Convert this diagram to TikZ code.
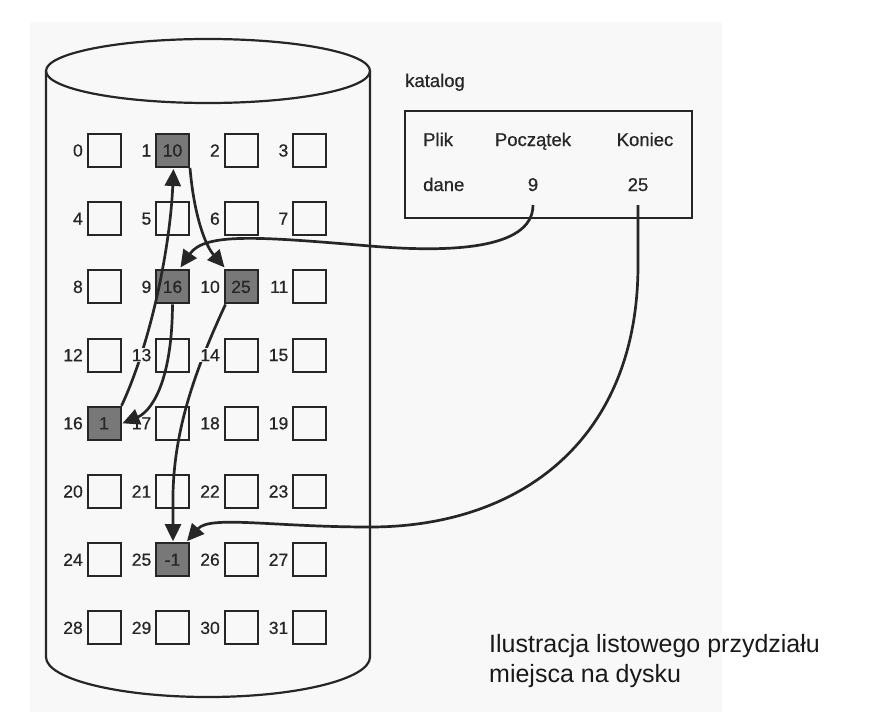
\documentclass[tikz,border=0pt]{standalone}
\usepackage{fontspec}
\setmainfont{Liberation Sans}
\newfontfamily\scanfont[FakeBold=0.6]{Liberation Sans}
\usetikzlibrary{arrows.meta,calc}
\definecolor{ink}{HTML}{262626}
\definecolor{bg}{HTML}{F8F8F8}
\definecolor{cell}{HTML}{787878}
\newcommand\cellxy[1]{%
  \pgfmathtruncatemacro\cc{mod(#1,4)}%
  \pgfmathtruncatemacro\rr{#1/4}%
  \pgfmathsetmacro\X{104+68.5*\cc}%
  \pgfmathsetmacro\Y{150.5+68.2*\rr}}
\begin{document}
\begin{tikzpicture}[x=1pt,y=-1pt,
  cellbox/.style={draw=ink,line width=2pt,minimum size=33pt,inner sep=0pt,fill=bg},
  usedbox/.style={cellbox,fill=cell,text=ink,font=\scanfont\fontsize{17.5}{17.5}\selectfont},
  numlabel/.style={anchor=east,inner sep=1pt,text=ink,font=\scanfont\fontsize{17.5}{17.5}\selectfont},
  lab13/.style={fill=bg},
  lab14/.style={fill=bg},
  cattext/.style={anchor=base,inner sep=0pt,text=ink,font=\scanfont\fontsize{18.5}{18.5}\selectfont},
  link/.style={draw=ink,line width=2.7pt,-{Triangle[length=17pt,width=16pt]}},
  caption/.style={anchor=base west,inner sep=0pt,text=black!90,font=\fontsize{25}{30}\selectfont}
]
\useasboundingbox (0,0) rectangle (873,725);
\fill[bg] (30,22) rectangle (722,712);

% cylinder
\draw[ink,line width=2.2pt] (208,71) ellipse [x radius=162, y radius=32];
\draw[ink,line width=2.2pt] (46,71) -- (46,657)
  .. controls (46,679) and (119,697) .. (208,697)
  .. controls (297,697) and (370,679) .. (370,657) -- (370,71);

% catalog
\node[cattext,anchor=base west] (kat) at (405,87) {katalog};
\node[draw=ink,line width=2pt,minimum width=287pt,minimum height=107pt,inner sep=0pt] (cat) at (548.5,164.5) {};
\node[cattext,anchor=base west] (plik) at (423,146) {Plik};
\node[cattext] (pocz) at (533,146) {Początek};
\node[cattext] (kon) at (645,146) {Koniec};
\node[cattext,anchor=base west] (dane) at (423,191) {dane};
\node[cattext] (p9) at (533,191) {9};
\node[cattext] (p25) at (638,191) {25};
\coordinate (s9) at (533,205);
\coordinate (s25) at (638,205);

% cells
\foreach \i in {0,2,3,4,5,6,7,8,11,12,13,14,15,17,18,19,20,21,22,23,24,26,27,28,29,30,31}{
  \cellxy{\i}
  \node[cellbox] (b\i) at (\X,\Y) {};
}
\foreach \i/\t in {1/10,9/16,10/25,16/1,25/-1}{
  \cellxy{\i}
  \node[usedbox] (b\i) at (\X,\Y) {\t};
}

% links
\draw[link] (s9) .. controls (533,252) and (440,252) .. (370,246)
  .. controls (262,237) and (205,232) .. ($(b9.north)+(8,-2)$);
\draw[link] (s25) -- (638,265) .. controls (638,440) and (520,527) .. (370,527)
  .. controls (272,527) and (210,515) .. ($(b25.north east)+(-3,-1)$);
\draw[link] (b9.south) .. controls (172,385) and (150,412) .. ($(b16.east)+(1,0)$);
\draw[link] (b16.north east) .. controls (150,345) and (170,250) .. ($(b1.south)+(1,1)$);
\draw[link] (b1.south east) .. controls (194,215) and (205,245) .. ($(b10.north west)+(1,-2)$);
\draw[link] ($(b10.south west)+(2,0)$) .. controls (195,370) and (174,430) .. (173,495) -- ($(b25.north)+(0.5,-1)$);

% labels
\foreach \i in {0,...,31}{
  \node[numlabel,lab\i/.try] (l\i) at ($(b\i.west)+(-2.5,0)$) {\i};
}

% caption
\node[caption] (cap1) at (489,652) {Ilustracja listowego przydziału};
\node[caption] (cap2) at (489,682) {miejsca na dysku};
\end{tikzpicture}
\end{document}
